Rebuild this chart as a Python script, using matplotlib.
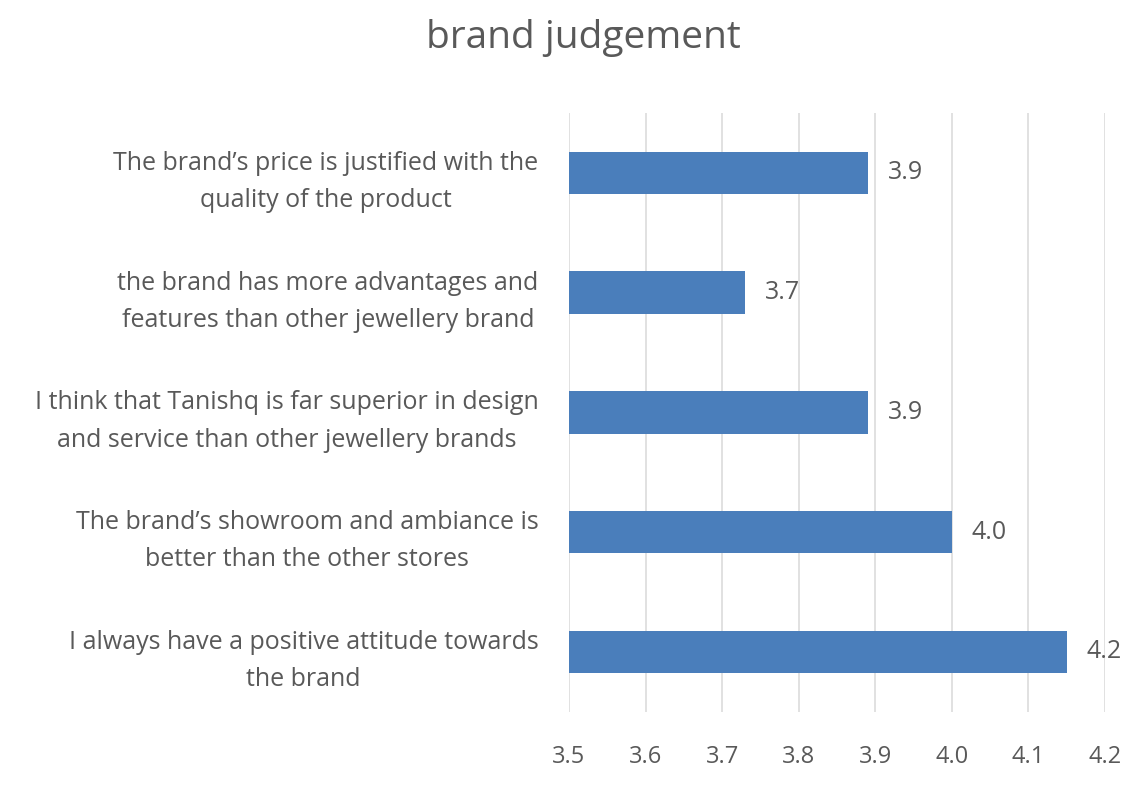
import matplotlib
matplotlib.use("Agg")
import matplotlib.pyplot as plt
from matplotlib import font_manager as fm

categories = [
    "The brand\u2019s price is justified with the\nquality of the product",
    "the brand has more advantages and\nfeatures than other jewellery brand",
    "I think that Tanishq is far superior in design\nand service than other jewellery brands",
    "The brand\u2019s showroom and ambiance is\nbetter than the other stores",
    "I always have a positive attitude towards\nthe brand",
]
values = [3.89, 3.73, 3.89, 4.00, 4.15]
value_labels = ["3.9", "3.7", "3.9", "4.0", "4.2"]
xticks = [3.5, 3.6, 3.7, 3.8, 3.9, 4.0, 4.1, 4.2]
xtick_labels = ["3.5", "3.6", "3.7", "3.8", "3.9", "4.0", "4.1", "4.2"]

names = {f.name for f in fm.fontManager.ttflist}
fam = None
for cand in ["Liberation Sans Narrow", "DejaVu Sans Condensed", "Open Sans", "DejaVu Sans"]:
    if cand in names:
        fam = cand
        break
plt.rcParams['font.family'] = [fam, 'DejaVu Sans']

TXT = '#595959'
FS = 18
fig = plt.figure(figsize=(11.38, 7.9), dpi=100)
ax = fig.add_axes([0.5, 0.099, 0.471, 0.758])

y = list(range(len(categories)))
ax.barh(y, [v - 3.5 for v in values], left=3.5, height=0.355, color='#4a7ebb', zorder=3)
for yi, v, lab in zip(y, values, value_labels):
    ax.text(v + 0.026, yi, lab, va='center', ha='left', fontsize=FS, color=TXT)

ax.set_xlim(3.5, 4.2)
ax.set_ylim(-0.5, len(categories) - 0.5)
ax.invert_yaxis()
ax.set_xticks(xticks)
ax.set_xticklabels(xtick_labels, fontsize=FS - 1, color=TXT)
ax.set_yticks(y)
ax.set_yticklabels(categories, fontsize=FS, color=TXT, linespacing=1.65)
for lab in ax.get_yticklabels():
    lab.set_multialignment('center')
ax.tick_params(axis='both', length=0)
ax.tick_params(axis='x', pad=24)
ax.tick_params(axis='y', pad=22)
ax.xaxis.grid(True, color='#d9d9d9', linewidth=1.1, zorder=0)
ax.set_axisbelow(True)
for s in ax.spines.values():
    s.set_visible(False)

fig.text(0.513, 0.952, "brand judgement", ha='center', va='center', fontsize=28, color=TXT)
fig.savefig("out.png", dpi=100)
